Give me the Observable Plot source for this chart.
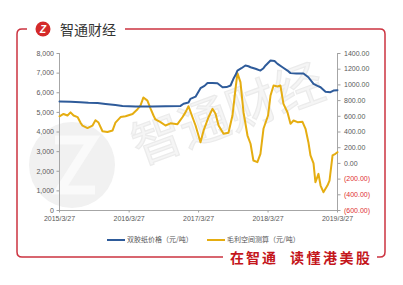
<!DOCTYPE html>
<html>
<head>
<meta charset="utf-8">
<script src="https://cdn.jsdelivr.net/npm/d3@7"></script>
<script src="https://cdn.jsdelivr.net/npm/@observablehq/plot@0.6"></script>
<style>
  html, body { margin: 0; padding: 0; background: #fff; }
  #wrap { position: relative; width: 403px; height: 285px; overflow: hidden; font-family: "Liberation Sans", "Noto Sans CJK SC", sans-serif; }
  #wrap > * { position: absolute; }
  .leg { font-size: 7px; color: #555; font-family: "Noto Sans CJK SC"; white-space: nowrap; line-height: 10px; }
  .sw { display: inline-block; width: 18px; height: 2px; vertical-align: middle; margin-right: 2px; }
</style>
</head>
<body>
<div id="wrap">
  <svg id="deco" width="403" height="285" style="left:0;top:0">
    <circle cx="72" cy="165" r="43" fill="#f1f1f1"/>
    <path d="M55,140 L92,140 L60,190 L95,190" fill="none" stroke="#fafafa" stroke-width="9"/>
    <text x="140" y="165" font-size="50" fill="#f5f5f5" stroke="#ebebeb" stroke-width="1.2" font-family="Noto Sans CJK SC" transform="rotate(-20 140 165)">智通财经</text>
    <path d="M27,29 H22 Q17,29 17,34 V252 Q17,257 22,257 H223" fill="none" stroke="#cc3340" stroke-width="1.5"/>
    <path d="M125,29 H380 Q385,29 385,34 V252 Q385,257 380,257 H377" fill="none" stroke="#cc3340" stroke-width="1.5"/>
    <circle cx="43" cy="29" r="7.5" fill="#d42a2a"/>
    <text x="43" y="32.5" font-size="10" font-weight="bold" font-style="italic" fill="#fff" text-anchor="middle" font-family="Liberation Sans">Z</text>
    <text x="60" y="34.5" font-size="14" fill="#333" font-family="Noto Sans CJK SC">智通财经</text>
    <text x="230" y="263" font-size="14" font-weight="bold" fill="#c4161c" font-family="Noto Sans CJK SC" letter-spacing="2">在智通</text>
    <text x="290" y="263" font-size="14" font-weight="bold" fill="#c4161c" font-family="Noto Sans CJK SC" letter-spacing="2.5">读懂港美股</text>
  </svg>
  <div id="chart" style="left:0;top:0"></div>
  <div class="leg" style="left:107px;top:234px"><span class="sw" style="background:#2e5b9a"></span>双胶纸价格（元/吨）</div>
  <div class="leg" style="left:207px;top:234px"><span class="sw" style="background:#e5ad11"></span>毛利空间测算（元/吨）</div>
</div>
<script>
// Paper price (left axis, yuan/ton)
const priceDates = ["2015-03-27","2015-05-24","2015-07-15","2015-08-26","2015-10-13","2015-11-24","2016-01-15","2016-02-21","2016-04-29","2016-07-28","2016-10-04","2016-12-22","2017-01-07","2017-02-02","2017-02-12","2017-03-11","2017-04-06","2017-04-27","2017-05-13","2017-06-08","2017-07-04","2017-07-31","2017-08-21","2017-09-11","2017-09-26","2017-10-07","2017-10-17","2017-11-07","2017-11-28","2017-12-14","2017-12-25","2018-01-20","2018-02-15","2018-03-03","2018-03-14","2018-04-09","2018-04-30","2018-05-16","2018-06-11","2018-07-07","2018-07-23","2018-08-23","2018-09-29","2018-10-25","2018-11-21","2018-12-12","2018-12-28","2019-01-23","2019-02-18","2019-03-06","2019-03-27"];
const priceValues = [5550,5540,5510,5490,5480,5430,5370,5320,5300,5300,5310,5330,5440,5500,5690,5800,6230,6350,6500,6500,6480,6280,6290,6370,6710,6900,7130,7250,7390,7350,7300,7220,7130,7250,7390,7640,7620,7470,7300,7130,7000,6980,6980,6790,6450,6350,6280,6050,6030,6110,6130];

// Gross margin estimate (right axis, yuan/ton)
const marginDates = ["2015-03-27","2015-04-17","2015-05-08","2015-05-24","2015-06-09","2015-06-30","2015-07-15","2015-07-26","2015-08-21","2015-09-16","2015-10-02","2015-10-18","2015-11-08","2015-12-04","2015-12-31","2016-01-15","2016-02-11","2016-03-08","2016-04-14","2016-05-10","2016-05-26","2016-06-10","2016-07-01","2016-07-17","2016-08-02","2016-08-12","2016-09-08","2016-10-04","2016-10-30","2016-12-06","2017-01-01","2017-01-17","2017-02-02","2017-02-23","2017-03-11","2017-04-06","2017-04-22","2017-05-18","2017-06-08","2017-06-24","2017-07-10","2017-08-05","2017-08-31","2017-09-21","2017-10-07","2017-10-17","2017-11-02","2017-11-18","2017-12-09","2017-12-25","2018-01-09","2018-01-30","2018-02-15","2018-03-03","2018-03-27","2018-04-09","2018-04-25","2018-05-16","2018-05-31","2018-06-16","2018-07-07","2018-07-23","2018-08-08","2018-08-29","2018-09-24","2018-10-10","2018-10-25","2018-11-05","2018-11-21","2018-12-01","2018-12-17","2018-12-28","2019-01-12","2019-02-02","2019-02-13","2019-03-01","2019-03-16","2019-03-27"];
const marginValues = [600,630,610,650,610,590,520,480,450,480,550,520,410,400,420,520,590,600,630,690,740,840,800,700,610,560,525,483,510,500,588,650,728,588,483,270,417,588,695,632,483,377,390,610,950,1150,1035,652,355,250,37,16,122,441,610,865,992,980,992,759,652,504,546,525,530,441,270,101,0,-240,-133,-282,-367,-282,-218,101,122,143];

const leftTicks = [0,1000,2000,3000,4000,5000,6000,7000,8000];
const rightTicks = [-600,-400,-200,0,200,400,600,800,1000,1200,1400];
const xTickDates = ["2015-03-27","2016-03-27","2017-03-27","2018-03-27","2019-03-27"];

const toLeft = m => (m + 600) * 4; // right-axis value onto the left y scale
const priceData = priceDates.map((d, i) => ({date: new Date(d), value: priceValues[i]}));
const marginData = marginDates.map((d, i) => ({date: new Date(d), value: toLeft(marginValues[i])}));
const xDomain = [new Date(xTickDates[0]), new Date(xTickDates[xTickDates.length - 1])];
const fmtR = v => { const m = v / 4 - 600; return m < 0 ? "(" + (-m).toFixed(2) + ")" : m.toFixed(2); };
const fmtDate = d => d.getUTCFullYear() + "/" + (d.getUTCMonth() + 1) + "/" + d.getUTCDate();
const axisCommon = {fontSize: 7, tickSize: 2.5, label: null, stroke: "#a0a0a0"};

const chart = Plot.plot({
  width: 403, height: 285,
  marginLeft: 59, marginRight: 66, marginTop: 53, marginBottom: 75,
  style: {background: "transparent", fontFamily: "Liberation Sans"},
  x: {type: "utc", domain: xDomain},
  y: {domain: [0, 8000]},
  marks: [
    Plot.ruleX([xDomain[0]], {stroke: "#a6a6a6"}),
    Plot.ruleX([xDomain[1]], {stroke: "#a6a6a6"}),
    Plot.ruleY([0], {stroke: "#a6a6a6"}),
    Plot.axisY({...axisCommon, anchor: "left", ticks: leftTicks, tickFormat: d3.format(","), fill: "#595959", tickPadding: 3}),
    Plot.axisY({...axisCommon, anchor: "right", ticks: rightTicks.filter(t => t >= 0).map(toLeft), tickFormat: fmtR, fill: "#595959", tickPadding: 4}),
    Plot.axisY({...axisCommon, anchor: "right", ticks: rightTicks.filter(t => t < 0).map(toLeft), tickFormat: fmtR, fill: "#e03030", tickPadding: 4}),
    Plot.axisX({...axisCommon, ticks: xTickDates.map(d => new Date(d)), tickFormat: fmtDate, fill: "#595959", tickPadding: 3}),
    Plot.line(marginData, {x: "date", y: "value", stroke: "#e5ad11", strokeWidth: 2}),
    Plot.line(priceData, {x: "date", y: "value", stroke: "#2e5b9a", strokeWidth: 2})
  ]
});
document.getElementById("chart").appendChild(chart);
</script>
</body>
</html>
